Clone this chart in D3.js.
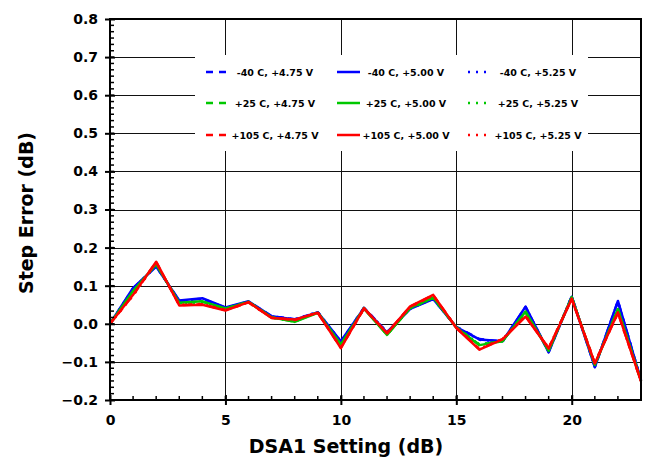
<!DOCTYPE html>
<html>
<head>
<meta charset="utf-8">
<script src="https://cdn.jsdelivr.net/npm/d3@7/dist/d3.min.js"></script>
<style>
  html, body { margin: 0; padding: 0; background: #fff; }
  svg { display: block; }
  text { font-family: "DejaVu Sans", Verdana, sans-serif; font-weight: bold; fill: #000; }
</style>
</head>
<body>
<svg id="chart" width="649" height="462"></svg>
<script>
// ---------------- data ----------------
const xValues = [0,1,2,3,4,5,6,7,8,9,10,11,12,13,14,15,16,17,18,19,20,21,22,23];

const m40_475 = [0.000,0.092,0.152,0.060,0.066,0.042,0.058,0.020,0.012,0.030,-0.048,0.042,-0.022,0.040,0.066,-0.008,-0.040,-0.047,0.044,-0.074,0.072,-0.113,0.059,-0.148];
const m40_500 = [0.000,0.094,0.150,0.061,0.067,0.043,0.059,0.020,0.011,0.030,-0.046,0.041,-0.023,0.039,0.065,-0.009,-0.041,-0.046,0.045,-0.075,0.071,-0.114,0.060,-0.149];
const m40_525 = [0.000,0.093,0.151,0.059,0.065,0.042,0.058,0.019,0.012,0.031,-0.047,0.042,-0.022,0.040,0.066,-0.008,-0.042,-0.047,0.043,-0.073,0.072,-0.112,0.058,-0.148];

const p25_475 = [0.000,0.085,0.157,0.054,0.058,0.039,0.058,0.017,0.006,0.030,-0.055,0.041,-0.028,0.041,0.068,-0.009,-0.055,-0.045,0.031,-0.070,0.069,-0.107,0.038,-0.150];
const p25_500 = [0.000,0.086,0.156,0.055,0.059,0.040,0.057,0.017,0.005,0.029,-0.054,0.040,-0.029,0.042,0.069,-0.010,-0.056,-0.046,0.032,-0.071,0.070,-0.108,0.039,-0.150];
const p25_525 = [0.000,0.084,0.158,0.053,0.057,0.039,0.058,0.016,0.006,0.030,-0.056,0.041,-0.028,0.041,0.067,-0.009,-0.054,-0.045,0.030,-0.069,0.069,-0.106,0.037,-0.149];

const p105_475 = [0.000,0.075,0.162,0.049,0.051,0.036,0.056,0.016,0.010,0.029,-0.063,0.040,-0.024,0.045,0.075,-0.010,-0.067,-0.040,0.020,-0.064,0.066,-0.103,0.029,-0.150];
const p105_500 = [0.000,0.076,0.163,0.048,0.050,0.035,0.057,0.015,0.011,0.029,-0.064,0.041,-0.025,0.046,0.076,-0.011,-0.068,-0.041,0.019,-0.065,0.065,-0.104,0.030,-0.151];
const p105_525 = [0.000,0.074,0.161,0.050,0.052,0.036,0.056,0.016,0.010,0.030,-0.062,0.040,-0.024,0.044,0.074,-0.010,-0.066,-0.040,0.021,-0.063,0.066,-0.102,0.028,-0.150];

const temps = ["-40 C", "+25 C", "+105 C"];
const volts = ["+4.75 V", "+5.00 V", "+5.25 V"];
const tempColors = ["#0000ff", "#00c800", "#ff0000"];
const voltDash = ["7,6", null, "2,6"];

const seriesValues = [
  [m40_475, m40_500, m40_525],
  [p25_475, p25_500, p25_525],
  [p105_475, p105_500, p105_525]
];

const xTicks = [0, 5, 10, 15, 20];
const yTicks = [-0.2, -0.1, 0.0, 0.1, 0.2, 0.3, 0.4, 0.5, 0.6, 0.7, 0.8];
const xTitle = "DSA1 Setting (dB)";
const yTitle = "Step Error (dB)";

// ---------------- layout ----------------
const L = 110, R = 641, T = 19, B = 400;
const svg = d3.select("#chart");
const x = d3.scaleLinear().domain([0, 23]).range([L, R]);
const y = d3.scaleLinear().domain([-0.2, 0.8]).range([B, T]);

// gridlines
const grid = svg.append("g").attr("shape-rendering", "crispEdges");
grid.selectAll("line.h").data(yTicks.filter(v => v > -0.2 && v < 0.8)).enter()
  .append("line").attr("x1", L).attr("x2", R)
  .attr("y1", d => Math.round(y(d)) + 0.5).attr("y2", d => Math.round(y(d)) + 0.5)
  .attr("stroke", "#111").attr("stroke-width", 1);
grid.selectAll("line.v").data(xTicks.filter(v => v > 0)).enter()
  .append("line").attr("y1", T).attr("y2", B)
  .attr("x1", d => Math.round(x(d)) + 0.5).attr("x2", d => Math.round(x(d)) + 0.5)
  .attr("stroke", "#111").attr("stroke-width", 1);

// legend background
const legBox = {x: 195, y: 55, w: 393, h: 96};
svg.append("rect").attr("x", legBox.x).attr("y", legBox.y)
  .attr("width", legBox.w).attr("height", legBox.h).attr("fill", "#fff");

// data lines
const line = d3.line().x((d, i) => x(xValues[i])).y(d => y(d));
seriesValues.forEach((group, ti) => {
  group.forEach((vals, vi) => {
    svg.append("path").datum(vals)
      .attr("d", line)
      .attr("fill", "none")
      .attr("stroke", tempColors[ti])
      .attr("stroke-width", 2.5)
      .attr("stroke-linejoin", "round")
      .attr("stroke-dasharray", voltDash[vi]);
  });
});

// frame
svg.append("rect").attr("x", L).attr("y", T).attr("width", R - L).attr("height", B - T)
  .attr("fill", "none").attr("stroke", "#000").attr("stroke-width", 2);

// y axis ticks
const yAxisG = svg.append("g").attr("transform", `translate(${L},0)`);
const yMinor = d3.range(-0.2, 0.8001, 0.1 / 6);
yAxisG.selectAll("line.ymin").data(yMinor).enter().append("line")
  .attr("x1", 0).attr("x2", 4).attr("y1", d => y(d)).attr("y2", d => y(d))
  .attr("stroke", "#000").attr("stroke-width", 1.5);
const yAxis = d3.axisLeft(y).tickValues(yTicks).tickFormat(d3.format(".1f")).tickSizeInner(5).tickSizeOuter(0).tickPadding(4);
yAxisG.call(yAxis);
yAxisG.select(".domain").remove();
yAxisG.selectAll(".tick line").attr("x1", 5).attr("x2", -5).attr("stroke-width", 2);
yAxisG.selectAll(".tick text").attr("font-size", 14).attr("font-family", "DejaVu Sans").attr("font-weight", "bold").attr("dx", "-3");

// x axis ticks
const xAxisG = svg.append("g").attr("transform", `translate(0,${B})`);
const xMinor = d3.range(0, 24, 1);
xAxisG.selectAll("line.xmin").data(xMinor).enter().append("line")
  .attr("x1", d => x(d)).attr("x2", d => x(d)).attr("y1", 0).attr("y2", -4)
  .attr("stroke", "#000").attr("stroke-width", 1.5);
const xAxis = d3.axisBottom(x).tickValues(xTicks).tickFormat(d3.format("d")).tickSizeInner(5).tickSizeOuter(0).tickPadding(10);
xAxisG.call(xAxis);
xAxisG.select(".domain").remove();
xAxisG.selectAll(".tick line").attr("y1", -5).attr("y2", 5).attr("stroke-width", 2);
xAxisG.selectAll(".tick text").attr("font-size", 14).attr("font-family", "DejaVu Sans").attr("font-weight", "bold");

// titles
svg.append("text").attr("x", 346).attr("y", 453).attr("text-anchor", "middle")
  .attr("font-size", 19).text(xTitle);
svg.append("text").attr("transform", "translate(33,213) rotate(-90)").attr("text-anchor", "middle")
  .attr("font-size", 19).text(yTitle);

// legend
const colSample = [[206, 227], [337, 360], [468, 488]];
const colText = [275, 406, 538];
const rowY = [72, 103, 135];
temps.forEach((t, ti) => {
  volts.forEach((v, vi) => {
    svg.append("line")
      .attr("x1", colSample[vi][0]).attr("x2", colSample[vi][1])
      .attr("y1", rowY[ti]).attr("y2", rowY[ti])
      .attr("stroke", tempColors[ti]).attr("stroke-width", 2.5)
      .attr("stroke-dasharray", voltDash[vi]);
    svg.append("text").attr("x", colText[vi]).attr("y", rowY[ti] + 3.5)
      .attr("text-anchor", "middle").attr("font-size", 9.5)
      .text(`${t}, ${v}`);
  });
});
</script>
</body>
</html>
